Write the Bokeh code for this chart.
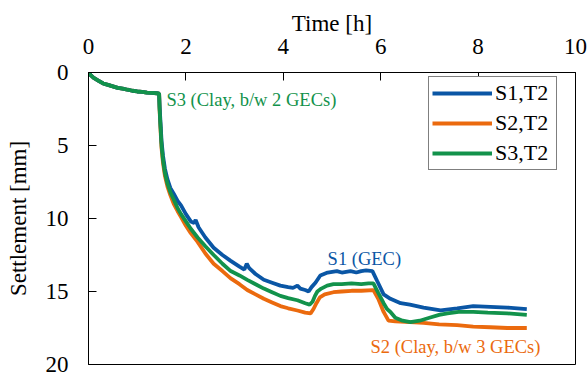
from bokeh.plotting import figure
from bokeh.models import Range1d, FixedTicker, Legend, LegendItem, Label
from bokeh.embed import file_html
from bokeh.resources import INLINE

# ---- data ----
t_early = [0, 0.05, 0.1, 0.2, 0.3, 0.4, 0.5, 0.6, 0.7, 0.8, 0.9, 1.0, 1.1, 1.2, 1.3, 1.4, 1.45]
y_early = [0, 0.2, 0.35, 0.55, 0.75, 0.85, 0.95, 1.05, 1.1, 1.18, 1.25, 1.3, 1.32, 1.38, 1.4, 1.42, 1.45]

s1_t = [1.46, 1.48, 1.50, 1.53, 1.57, 1.62, 1.68, 1.75, 1.83, 1.9, 2.0, 2.1, 2.17, 2.2, 2.26, 2.3,
        2.4, 2.57, 2.75, 2.92, 3.1, 3.2, 3.25, 3.3, 3.43, 3.6, 3.77, 3.94, 4.1, 4.2, 4.29, 4.35,
        4.45, 4.52, 4.58, 4.66, 4.76, 4.91, 5.1, 5.2, 5.38, 5.5, 5.6, 5.7, 5.83, 5.93, 6.06, 6.2,
        6.41, 6.6, 6.88, 7.23, 7.57, 7.9, 8.25, 8.6, 9.0]
s1_y = [2.3, 3.5, 4.7, 5.7, 6.6, 7.3, 7.9, 8.3, 8.8, 9.1, 9.7, 10.2, 10.3, 10.1, 10.6, 10.8,
        11.3, 12.0, 12.5, 12.9, 13.3, 13.5, 13.1, 13.4, 13.8, 14.2, 14.4, 14.6, 14.7, 14.75, 14.6, 14.8,
        14.9, 15.0, 14.7, 14.4, 13.9, 13.7, 13.6, 13.7, 13.6, 13.7, 13.6, 13.55, 13.6, 14.3, 15.2, 15.5,
        15.8, 15.9, 16.1, 16.3, 16.15, 16.0, 16.05, 16.1, 16.2]

s2_t = [1.46, 1.48, 1.50, 1.53, 1.57, 1.62, 1.68, 1.75, 1.83, 1.9, 2.0, 2.1, 2.24, 2.4, 2.57, 2.75,
        2.92, 3.1, 3.26, 3.43, 3.6, 3.77, 3.94, 4.1, 4.29, 4.45, 4.56, 4.62, 4.68, 4.75, 4.85, 5.03,
        5.2, 5.4, 5.6, 5.85, 5.95, 6.06, 6.16, 6.3, 6.6, 6.88, 7.2, 7.57, 7.9, 8.25, 8.6, 9.0]
s2_y = [2.6, 4.0, 5.2, 6.2, 7.1, 7.8, 8.4, 9.0, 9.5, 9.9, 10.5, 11.0, 11.6, 12.4, 13.1, 13.6,
        14.1, 14.5, 14.9, 15.2, 15.5, 15.75, 16.0, 16.15, 16.3, 16.45, 16.5, 16.2, 15.8, 15.4, 15.2, 15.05,
        15.0, 14.95, 14.95, 14.9, 15.5, 16.4, 17.0, 17.05, 17.1, 17.15, 17.25, 17.3, 17.4, 17.45, 17.5, 17.5]

s3_t = [1.46, 1.48, 1.50, 1.53, 1.57, 1.62, 1.68, 1.75, 1.83, 1.9, 2.0, 2.1, 2.24, 2.4, 2.57, 2.75,
        2.92, 3.1, 3.26, 3.43, 3.6, 3.77, 3.94, 4.1, 4.29, 4.45, 4.54, 4.6, 4.65, 4.7, 4.78, 4.9,
        5.03, 5.2, 5.4, 5.6, 5.75, 5.85, 5.95, 6.06, 6.13, 6.2, 6.3, 6.45, 6.61, 6.8, 7.0, 7.2,
        7.37, 7.6, 7.9, 8.2, 8.6, 9.0]
s3_y = [2.5, 3.8, 5.0, 6.0, 6.9, 7.6, 8.2, 8.7, 9.3, 9.7, 10.2, 10.7, 11.3, 11.9, 12.5, 13.1,
        13.6, 13.9, 14.2, 14.5, 14.8, 15.05, 15.3, 15.45, 15.6, 15.8, 15.9, 15.7, 15.3, 15.0, 14.8, 14.6,
        14.5, 14.5, 14.45, 14.5, 14.45, 14.45, 15.1, 15.8, 16.2, 16.4, 16.8, 17.0, 17.1, 17.0, 16.8, 16.6,
        16.5, 16.4, 16.4, 16.45, 16.5, 16.6]

series_names = ["S1,T2", "S2,T2", "S3,T2"]
x_ticks = [0, 2, 4, 6, 8, 10]
y_ticks = [0, 5, 10, 15, 20]

colors = ["#0A56A5", "#EB6A0E", "#12924B"]
FONT = "'Liberation Serif', 'Times New Roman', serif"

p = figure(width=588, height=374, output_backend="svg", toolbar_location=None,
           x_axis_location="above", x_range=Range1d(0, 10), y_range=Range1d(20, 0),
           min_border_left=88, min_border_right=13, min_border_top=72, min_border_bottom=10)
p.xgrid.visible = False
p.ygrid.visible = False
p.outline_line_color = "black"
p.outline_line_width = 1
p.background_fill_color = "white"
p.border_fill_color = "white"

for ax in (p.xaxis[0], p.yaxis[0]):
    ax.axis_line_color = "black"
    ax.major_tick_line_color = "black"
    ax.major_tick_in = 8
    ax.major_tick_out = 0
    ax.minor_tick_line_color = None
    ax.major_label_text_font = FONT
    ax.major_label_text_font_size = "23px"
    ax.major_label_text_color = "black"
    ax.axis_label_text_font = FONT
    ax.axis_label_text_font_size = "23px"
    ax.axis_label_text_font_style = "normal"
    ax.axis_label_text_color = "black"

p.xaxis.ticker = FixedTicker(ticks=x_ticks)
p.yaxis.ticker = FixedTicker(ticks=y_ticks)
p.xaxis.axis_label = "Time [h]"
p.yaxis.axis_label = "Settlement [mm]"
p.xaxis.major_label_standoff = 19
p.xaxis.axis_label_standoff = 0
p.yaxis.major_label_standoff = 20
p.yaxis.axis_label_standoff = 12

all_t = [t_early + s1_t, t_early + s2_t, t_early + s3_t]
all_y = [y_early + s1_y, y_early + s2_y, y_early + s3_y]
renderers = []
for i in (1, 0, 2):
    r = p.line(all_t[i], all_y[i], line_color=colors[i], line_width=3.8)
    renderers.append((i, r))
rmap = dict(renderers)

legend = Legend(items=[LegendItem(label=series_names[i], renderers=[rmap[i]]) for i in range(3)],
                location=(340, 194))
legend.label_text_font = FONT
legend.label_text_font_size = "22px"
legend.label_text_color = "black"
legend.glyph_width = 60
legend.glyph_height = 22
legend.label_height = 22
legend.label_width = 58
legend.label_standoff = 3
legend.spacing = 4
legend.padding = 3
legend.margin = 0
legend.border_line_color = "black"
legend.border_line_width = 1
legend.background_fill_alpha = 1
p.add_layout(legend, "center")

p.add_layout(Label(x=1.6, y=1.9, text="S3 (Clay, b/w 2 GECs)", text_font=FONT,
                   text_font_size="18.5px", text_color="#12924B", text_baseline="middle"))
p.add_layout(Label(x=4.91, y=12.75, text="S1 (GEC)", text_font=FONT,
                   text_font_size="18.5px", text_color="#0A56A5", text_baseline="middle"))
p.add_layout(Label(x=5.79, y=18.8, text="S2 (Clay, b/w 3 GECs)", text_font=FONT,
                   text_font_size="18.5px", text_color="#EB6A0E", text_baseline="middle"))

open("out.html", "w").write(file_html(p, INLINE))
